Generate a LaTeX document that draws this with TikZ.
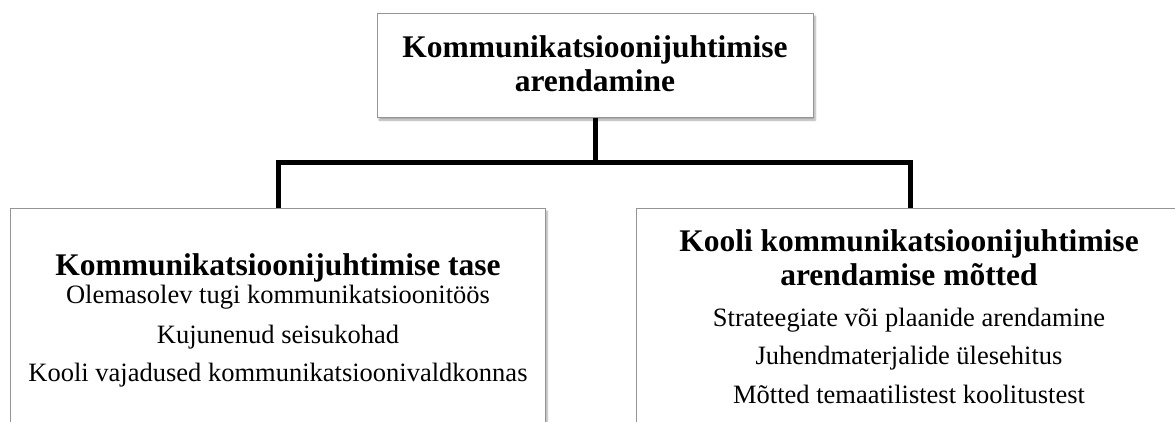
\documentclass[tikz,border=0pt]{standalone}
\usepackage{fontspec}
\setmainfont{Liberation Serif}
\usetikzlibrary{shadows.blur}
\tikzset{
  boxnode/.style={draw=black!42, line width=1.2pt, fill=white, inner sep=0pt, anchor=north west,
    blur shadow={shadow xshift=1.5pt, shadow yshift=-2.5pt, shadow blur steps=6, shadow opacity=35}},
  ttl/.style={font=\fontsize{31.5}{34}\selectfont\bfseries, anchor=base, inner sep=0pt},
  txt/.style={font=\fontsize{26.5}{30}\selectfont, anchor=base, inner sep=0pt},
  conn/.style={line width=5pt, line join=miter, draw=black}
}
\begin{document}
\begin{tikzpicture}[x=1pt, y=-1pt]
\useasboundingbox (0,0) rectangle (1175,421);
\clip (0,0) rectangle (1175,421);
% boxes
\node[boxnode, minimum width=436pt, minimum height=104pt] (top) at (377,13) {};
\node[boxnode, minimum width=535pt, minimum height=240pt] (left) at (10,208) {};
\node[boxnode, minimum width=548pt, minimum height=240pt] (right) at (636,208) {};
% connectors
\draw[conn] (top.south) -- (top.south |- 0,162) coordinate (j);
\draw[conn] (left.north) |- (j) -| (right.north);
% top text
\node[ttl] (t1) at (595,57) {Kommunikatsioonijuhtimise};
\node[ttl] (t2) at (595,91) {arendamine};
% left text
\node[ttl] (l0) at (278,275) {Kommunikatsioonijuhtimise tase};
\node[txt] (l1) at (278,303) {Olemasolev tugi kommunikatsioonitöös};
\node[txt] (l2) at (278,343) {Kujunenud seisukohad};
\node[txt] (l3) at (278,381) {Kooli vajadused kommunikatsioonivaldkonnas};
% right text
\node[ttl] (r0) at (909,251) {Kooli kommunikatsioonijuhtimise};
\node[ttl] (r0b) at (909,285) {arendamise mõtted};
\node[txt] (r1) at (909,326) {Strateegiate või plaanide arendamine};
\node[txt] (r2) at (909,364) {Juhendmaterjalide ülesehitus};
\node[txt] (r3) at (909,403) {Mõtted temaatilistest koolitustest};
\end{tikzpicture}
\end{document}
